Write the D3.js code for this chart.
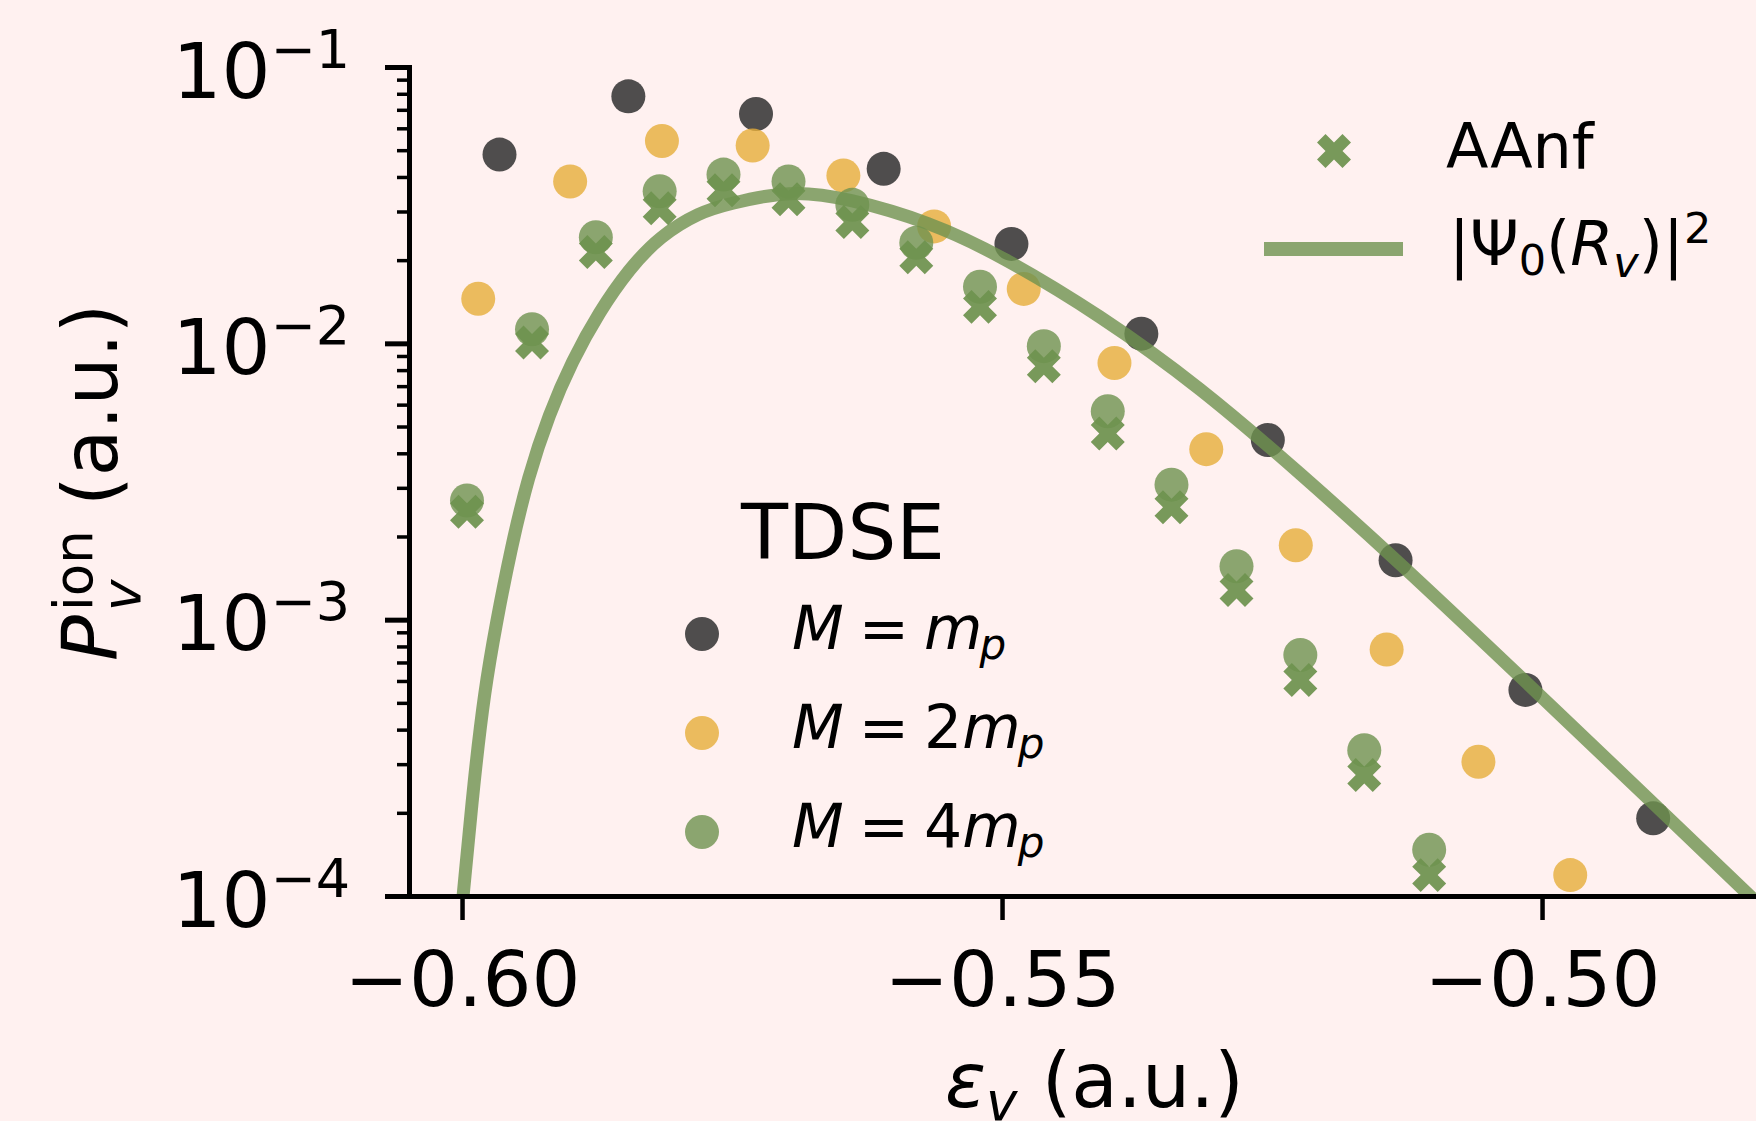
<!DOCTYPE html>
<html>
<head>
<meta charset="utf-8">
<script src="https://cdn.jsdelivr.net/npm/d3@7"></script>
<style>
  html, body { margin: 0; padding: 0; background: #fff1f0; overflow: hidden; }
  svg { display: block; font-family: "DejaVu Sans", sans-serif; }
</style>
</head>
<body>
<div id="chart"></div>
<script>
// figure size and plot box (the right edge runs past the figure)
const width = 1756;
const height = 1121;
const plot = {left: 409, right: 1775, top: 67, bottom: 896};

// TDSE, M = m_p
const energiesMp = [-0.59653, -0.58460, -0.57278, -0.56096, -0.54913, -0.53710, -0.52539, -0.51356, -0.50154, -0.48971];
const probMp = [0.0482, 0.0783, 0.0676, 0.0428, 0.0229, 0.01084, 0.00447, 0.00164, 0.000557, 0.000191];

// TDSE, M = 2 m_p
const energies2Mp = [-0.59850, -0.58999, -0.58149, -0.57309, -0.56469, -0.55629, -0.54799, -0.53959, -0.53109, -0.52280, -0.51439, -0.50589, -0.49739];
const prob2Mp = [0.01449, 0.0385, 0.0540, 0.0520, 0.0405, 0.0265, 0.01574, 0.00849, 0.00414, 0.00186, 0.000780, 0.000306, 0.000119];

// TDSE, M = 4 m_p
const energies4Mp = [-0.59954, -0.59352, -0.58761, -0.58170, -0.57579, -0.56977, -0.56386, -0.55794, -0.55204, -0.54613, -0.54021, -0.53431, -0.52829, -0.52238, -0.51646, -0.51045];
const prob4Mp = [0.00270, 0.01125, 0.0242, 0.0355, 0.0408, 0.0385, 0.0317, 0.0231, 0.01603, 0.00977, 0.00568, 0.00308, 0.00156, 0.000745, 0.000337, 0.000147];

// AAnf (same energies as M = 4 m_p)
const probAAnf = [0.00246, 0.01007, 0.0214, 0.0308, 0.0358, 0.0332, 0.0275, 0.0205, 0.01355, 0.00826, 0.00472, 0.00255, 0.00128, 0.000605, 0.000274, 0.000119];

// |Psi_0(R_v)|^2 curve
const curveEps = [-0.59994, -0.59988, -0.59889, -0.59792, -0.59685, -0.59546, -0.59389, -0.59194, -0.58981, -0.58731, -0.58454, -0.58167, -0.57796, -0.57537, -0.56963, -0.56435, -0.55667, -0.55019, -0.54093, -0.53167, -0.52241, -0.51315, -0.50139, -0.48935, -0.47843];
const curveProb = [0.0000967, 0.0001017, 0.000263, 0.000552, 0.000965, 0.001817, 0.003283, 0.005552, 0.00863, 0.01298, 0.01858, 0.02446, 0.02987, 0.03193, 0.03589, 0.03357, 0.02748, 0.02088, 0.01267, 0.00695, 0.003394, 0.001604, 0.000590, 0.000210, 0.0000819];

// ticks
const xTicks = [-0.60, -0.55, -0.50];
const yTicks = [1e-4, 1e-3, 1e-2, 1e-1];

const colMp = "#2b2b2b";
const col2Mp = "#e6ae3a";
const colGreen = "#6e924f";

const svg = d3.select("#chart")
  .append("svg")
  .attr("width", width)
  .attr("height", height);

svg.append("rect")
  .attr("width", width)
  .attr("height", height)
  .attr("fill", "#fff1f0");

// scales
const x = d3.scaleLinear()
  .domain([-0.60491, -0.47843])
  .range([plot.left, plot.right]);

const y = d3.scaleLog()
  .domain([1e-4, 1e-1])
  .range([plot.bottom, plot.top]);

svg.append("clipPath").attr("id", "clip")
  .append("rect")
  .attr("x", plot.left).attr("y", plot.top)
  .attr("width", plot.right - plot.left).attr("height", plot.bottom - plot.top);

/* scatter points */
const circles = svg.append("g");

function dots(eps, vals, colour, op) {
  circles.selectAll(null)
    .data(d3.zip(eps, vals))
    .enter()
    .append("circle")
      .attr("cx", d => x(d[0]))
      .attr("cy", d => y(d[1]))
      .attr("r", 17)
      .attr("fill", colour)
      .attr("fill-opacity", op);
}
dots(energiesMp, probMp, colMp, 0.83);
dots(energies2Mp, prob2Mp, col2Mp, 0.8);
dots(energies4Mp, prob4Mp, colGreen, 0.8);

const cross = d3.symbol(d3.symbolCross, 722);
svg.append("g").selectAll("path")
  .data(d3.zip(energies4Mp, probAAnf))
  .enter()
  .append("path")
    .attr("d", cross)
    .attr("transform", d => `translate(${x(d[0])},${y(d[1])}) rotate(45)`)
    .attr("fill", colGreen)
    .attr("fill-opacity", 0.93);

/* curve */
const line = d3.line()
  .x(d => x(d[0]))
  .y(d => y(d[1]))
  .curve(d3.curveBasis);

svg.append("path")
  .datum(d3.zip(curveEps, curveProb))
  .attr("clip-path", "url(#clip)")
  .attr("d", line)
  .attr("fill", "none")
  .attr("stroke", colGreen)
  .attr("stroke-opacity", 0.8)
  .attr("stroke-width", 13);

/* axes */
const minorTicks = [];
[1e-4, 1e-3, 1e-2].forEach(dec => {
  for (let m = 2; m <= 9; m++) minorTicks.push(dec * m);
});

svg.append("g")
  .attr("transform", `translate(${plot.left},0)`)
  .call(d3.axisLeft(y).tickValues(minorTicks).tickSize(12).tickSizeOuter(0).tickFormat(""))
  .call(g => g.select(".domain").remove())
  .selectAll(".tick line").attr("stroke-width", 3.5);

const yAxis = svg.append("g")
  .attr("transform", `translate(${plot.left},0)`)
  .call(d3.axisLeft(y).tickValues(yTicks).tickSize(24).tickSizeOuter(0).tickFormat(""))
  .attr("font-size", 77)
  .attr("font-family", "DejaVu Sans");

yAxis.select(".domain").attr("stroke-width", 5).attr("stroke-linecap", "square");
yAxis.selectAll(".tick line").attr("stroke-width", 5);
yAxis.selectAll(".tick text")
  .attr("x", -59)
  .attr("y", 30)
  .attr("dy", null)
  .attr("fill", "#000")
  .attr("text-anchor", "end")
  .each(function(d) {
    const t = d3.select(this);
    t.append("tspan").text("10");
    t.append("tspan").attr("dy", -30).attr("font-size", 54)
      .text("\u2212" + Math.round(-Math.log10(d)));
  });

const xAxis = svg.append("g")
  .attr("transform", `translate(0,${plot.bottom})`)
  .call(d3.axisBottom(x).tickValues(xTicks).tickSize(24).tickSizeOuter(0)
    .tickFormat(d => "\u2212" + Math.abs(d).toFixed(2)))
  .attr("font-size", 77)
  .attr("font-family", "DejaVu Sans");

xAxis.select(".domain").attr("stroke-width", 5).attr("stroke-linecap", "square");
xAxis.selectAll(".tick line").attr("stroke-width", 4.5);
xAxis.selectAll(".tick text").attr("y", 110).attr("dy", null).attr("fill", "#000");

/* axis labels (the figure edge cuts the x label, as in the source) */
const xLabel = svg.append("text")
  .attr("x", 945)
  .attr("y", 1107)
  .attr("font-size", 76);
xLabel.append("tspan").attr("font-style", "oblique").text("\u03b5");
xLabel.append("tspan").attr("font-style", "oblique").attr("font-size", 53).attr("dy", 13).text("v");
xLabel.append("tspan").attr("dy", -13).text(" (a.u.)");

const yLabel = svg.append("g")
  .attr("transform", "translate(117,661) rotate(-90)")
  .attr("font-size", 76);
yLabel.append("text").attr("x", 0).attr("y", 0).attr("font-style", "oblique").text("P");
yLabel.append("text").attr("x", 50).attr("y", -25).attr("font-size", 53).text("ion");
yLabel.append("text").attr("x", 50).attr("y", 23).attr("font-size", 53).attr("font-style", "oblique").text("v");
yLabel.append("text").attr("x", 155).attr("y", 0).text("(a.u.)");

/* legend: AAnf and curve */
svg.append("path")
  .attr("d", cross)
  .attr("transform", "translate(1334,151) rotate(45)")
  .attr("fill", colGreen)
  .attr("fill-opacity", 0.93);
svg.append("text").attr("x", 1446).attr("y", 168).attr("font-size", 62).text("AAnf");

svg.append("line")
  .attr("x1", 1264).attr("x2", 1403)
  .attr("y1", 249).attr("y2", 249)
  .attr("stroke", colGreen)
  .attr("stroke-opacity", 0.8)
  .attr("stroke-width", 14);

const psi = svg.append("text").attr("x", 1449).attr("y", 265).attr("font-size", 62);
psi.append("tspan").text("|\u03a8");
psi.append("tspan").attr("font-size", 43).attr("dy", 10).text("0");
psi.append("tspan").attr("dy", -10).text("(");
psi.append("tspan").attr("font-style", "oblique").text("R");
psi.append("tspan").attr("font-style", "oblique").attr("font-size", 43).attr("dy", 12).text("v");
psi.append("tspan").attr("dy", -12).text(")|");
psi.append("tspan").attr("font-size", 43).attr("dy", -22).text("2");

/* legend: TDSE */
const tdseColours = [colMp, col2Mp, colGreen];
const tdseOpacity = [0.83, 0.8, 0.8];
const tdseCoeff = ["", "2", "4"];

svg.append("text")
  .attr("x", 843).attr("y", 559)
  .attr("text-anchor", "middle")
  .attr("font-size", 77)
  .text("TDSE");

tdseCoeff.forEach((c, i) => {
  const cy = 634 + i * 99;
  svg.append("circle")
    .attr("cx", 702).attr("cy", cy).attr("r", 17)
    .attr("fill", tdseColours[i])
    .attr("fill-opacity", tdseOpacity[i]);
  const t = svg.append("text").attr("x", 792).attr("y", cy + 15).attr("font-size", 60);
  t.append("tspan").attr("font-style", "oblique").text("M");
  t.append("tspan").text("\u2005=\u2005" + c);
  t.append("tspan").attr("font-style", "oblique").text("m");
  t.append("tspan").attr("font-style", "oblique").attr("font-size", 42).attr("dx", -3).attr("dy", 10).text("p");
});
</script>
</body>
</html>
